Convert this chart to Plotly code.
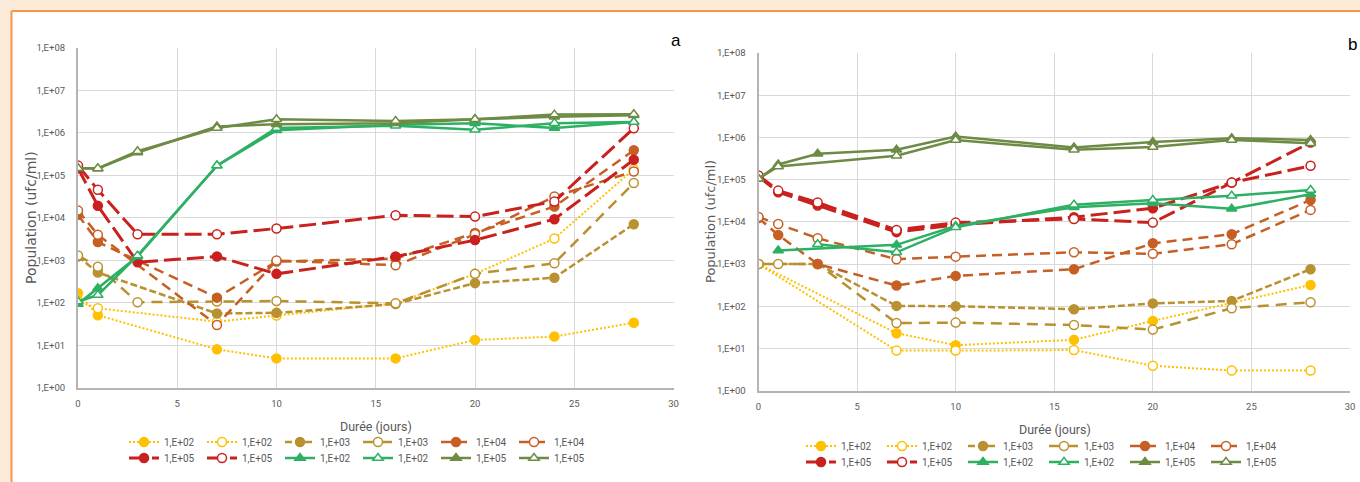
import plotly.graph_objects as go

# ---------------- data ----------------
days = [0, 1, 3, 7, 10, 16, 20, 24, 28]
x_tickvals = [0, 5, 10, 15, 20, 25, 30]
y_tickvals = [1, 10, 100, 1e3, 1e4, 1e5, 1e6, 1e7, 1e8]
y_ticktext = ["1,E+00", "1,E+01", "1,E+02", "1,E+03", "1,E+04",
              "1,E+05", "1,E+06", "1,E+07", "1,E+08"]
series_labels = ["1,E+02", "1,E+02", "1,E+03", "1,E+03", "1,E+04", "1,E+04",
                 "1,E+05", "1,E+05", "1,E+02", "1,E+02", "1,E+05", "1,E+05"]

# panel a
a_yel_f = [167, 51, None, 8, 4.9, 4.9, 13.3, 16, 34]
a_yel_o = [107, 74, None, 36, 50, 97, 480, 3250, 140000]
a_gold_f = [1230, 515, None, 56, 58, 94, 290, 390, 7100]
a_gold_o = [1300, 710, 103, 107, 110, 97, 480, 855, 66000]
a_ora_f = [11800, 2700, None, 132, 935, 1100, 4400, 18500, 390000]
a_ora_o = [14900, 4000, None, 30, 990, 765, 4100, 31700, 124000]
a_red_f = [148000, 19200, 900, 1230, 480, 1230, 3000, 9300, 234000]
a_red_o = [170000, 45700, 4100, 4100, 5600, 11500, 10700, 24300, 1290000]
a_grn_f = [94, 220, 1230, 170000, 1150000, 1560000, 1700000, 1300000, 1800000]
a_grn_o = [107, 152, 1290, 170000, 1300000, 1480000, 1180000, 1700000, 1800000]
a_olv_f = [148000, 146000, 346000, 1420000, 1600000, 1700000, 2100000, 2400000, 2600000]
a_olv_o = [148000, 146000, 370000, 1300000, 2100000, 1900000, 2100000, 2700000, 2750000]

# panel b
b_yel_f = [1000, None, None, 23, 12, 16, 45, None, 320]
b_yel_o = [1000, None, None, 8.9, 8.9, 9.2, 3.9, 3.0, 3.0]
b_gold_f = [1000, None, 1000, 102, 100, 85, 117, 134, 755]
b_gold_o = [1000, 1000, 1000, 40, 41, 36, 28, 90, 124]
b_ora_f = [12300, 4900, 1000, 310, 525, 755, 3100, 5100, 33000]
b_ora_o = [13000, 8900, 4100, 1300, 1500, 1900, 1750, 2950, 19200]
b_red_f = [118000, 50400, 24500, 5700, 8500, 12900, 21000, 85000, 760000]
b_red_o = [126000, 55000, 28700, 6400, 9600, 11700, 9600, 85000, 213000]
b_grn_f = [None, 2100, None, 2850, 8000, 22300, 27700, 20400, 45000]
b_grn_o = [None, None, 2960, 1900, 7400, 25300, 33000, 41400, 57000]
b_olv_f = [105000, 229000, 410000, 510000, 1050000, 580000, 780000, 960000, 870000]
b_olv_o = [105000, 205000, None, 370000, 870000, 510000, 590000, 870000, 730000]

panel_a = [a_yel_f, a_yel_o, a_gold_f, a_gold_o, a_ora_f, a_ora_o,
           a_red_f, a_red_o, a_grn_f, a_grn_o, a_olv_f, a_olv_o]
panel_b = [b_yel_f, b_yel_o, b_gold_f, b_gold_o, b_ora_f, b_ora_o,
           b_red_f, b_red_o, b_grn_f, b_grn_o, b_olv_f, b_olv_o]

# ---------------- styles ----------------
YEL, GOLD, ORA, RED, GRN, OLV = "#FFC000", "#BA9130", "#C65F24", "#C9211E", "#2DB063", "#6E8B45"
styles = [
    dict(color=YEL, dash="2px,2px", width=2, symbol="circle", filled=True),
    dict(color=YEL, dash="2px,2px", width=2, symbol="circle", filled=False),
    dict(color=GOLD, dash="7px,3px", width=2.5, symbol="circle", filled=True),
    dict(color=GOLD, dash="11px,7px", width=2.5, symbol="circle", filled=False),
    dict(color=ORA, dash="10px,6px", width=2.5, symbol="circle", filled=True),
    dict(color=ORA, dash="10px,6px", width=2.5, symbol="circle", filled=False),
    dict(color=RED, dash="17px,6px", width=3, symbol="circle", filled=True),
    dict(color=RED, dash="17px,6px", width=3, symbol="circle", filled=False),
    dict(color=GRN, dash="solid", width=2.5, symbol="triangle-up", filled=True),
    dict(color=GRN, dash="solid", width=2.5, symbol="triangle-up", filled=False),
    dict(color=OLV, dash="solid", width=2.5, symbol="triangle-up", filled=True),
    dict(color=OLV, dash="solid", width=2.5, symbol="triangle-up", filled=False),
]

W, H = 1360, 482
def px(x):
    return x / W
def py(y):
    return 1 - y / H

fig = go.Figure()
for panel, (xa, ya, lg1, lg2) in zip([panel_a, panel_b],
                                    [("x", "y", "legend", "legend2"),
                                     ("x2", "y2", "legend3", "legend4")]):
    for i, (vals, st, lab) in enumerate(zip(panel, styles, series_labels)):
        fig.add_trace(go.Scatter(
            x=days, y=vals, name=lab, mode="lines+markers", connectgaps=True,
            xaxis=xa, yaxis=ya, legend=lg1 if i < 6 else lg2,
            line=dict(color=st["color"], width=st["width"], dash=st["dash"]),
            marker=dict(symbol=st["symbol"], size=9,
                        color=st["color"] if st["filled"] else "white",
                        line=dict(color=st["color"], width=1.5)),
        ))

NARROW = "Liberation Sans Narrow, Roboto, sans-serif"
tick_font = dict(family=NARROW, size=9.5, color="#595959")
axis_common = dict(showgrid=True, gridcolor="#D9D9D9", gridwidth=1,
                   showline=True, linecolor="#B4B4B4", linewidth=2,
                   zeroline=False, ticks="", tickfont=tick_font, automargin=False)
xcommon = dict(axis_common, range=[0, 30], tickvals=x_tickvals, ticklabelstandoff=6)
ycommon = dict(axis_common, type="log", range=[0, 8], tickvals=y_tickvals,
               ticktext=y_ticktext, ticklabelstandoff=9)

fig.update_layout(
    width=W, height=H, margin=dict(l=0, r=0, t=0, b=0),
    paper_bgcolor="white", plot_bgcolor="white", template="none",
    xaxis=dict(xcommon, domain=[px(78), px(673.5)], anchor="y"),
    yaxis=dict(ycommon, domain=[py(387.7), py(48)], anchor="x"),
    xaxis2=dict(xcommon, domain=[px(758.5), px(1350)], anchor="y2"),
    yaxis2=dict(ycommon, domain=[py(390.7), py(53)], anchor="x2"),
)

leg_font = dict(family=NARROW, size=10, color="#595959")
leg_common = dict(orientation="h", xanchor="left", yanchor="middle", font=leg_font,
                  bgcolor="rgba(0,0,0,0)", borderwidth=0, entrywidth=33,
                  entrywidthmode="pixels", tracegroupgap=0, itemclick=False)
fig.update_layout(
    legend=dict(leg_common, x=px(124), y=py(442)),
    legend2=dict(leg_common, x=px(124), y=py(458)),
    legend3=dict(leg_common, x=px(801), y=py(446), entrywidth=36),
    legend4=dict(leg_common, x=px(801), y=py(462), entrywidth=36),
)

# background frame
PEACH, ORANGE = "#FDEBD9", "#F79646"
fig.add_shape(type="rect", xref="paper", yref="paper", x0=0, x1=1, y0=py(10), y1=1,
              fillcolor=PEACH, line_width=0, layer="below")
fig.add_shape(type="rect", xref="paper", yref="paper", x0=0, x1=px(11), y0=0, y1=1,
              fillcolor=PEACH, line_width=0, layer="below")
fig.add_shape(type="line", xref="paper", yref="paper", x0=px(11.5), x1=1, y0=py(11), y1=py(11),
              line=dict(color=ORANGE, width=2))
fig.add_shape(type="line", xref="paper", yref="paper", x0=px(11.5), x1=px(11.5), y0=0, y1=py(11),
              line=dict(color=ORANGE, width=2))

title_font = dict(family=NARROW, size=12.5, color="#595959")
ytitle_font = dict(family="DejaVu Sans, sans-serif", size=14, color="#595959")
annots = [
    dict(text="Durée (jours)", x=px(376), y=py(426), font=title_font),
    dict(text="Durée (jours)", x=px(1055), y=py(429), font=title_font),
    dict(text="Population (ufc/ml)", x=px(31), y=py(218), font=ytitle_font, textangle=-90),
    dict(text="Population (ufc/ml)", x=px(711), y=py(222), font=dict(ytitle_font, size=13), textangle=-90),
    dict(text="a", x=px(676), y=py(40), font=dict(family="Liberation Sans, Arial, sans-serif", size=17, color="#000000")),
    dict(text="b", x=px(1352), y=py(44), font=dict(family="Liberation Sans, Arial, sans-serif", size=17, color="#000000")),
]
for a in annots:
    fig.add_annotation(xref="paper", yref="paper", showarrow=False,
                       xanchor="center", yanchor="middle", **a)

fig.write_html("out.html", config={"displayModeBar": False},
               post_script="document.body.style.margin='0';")
